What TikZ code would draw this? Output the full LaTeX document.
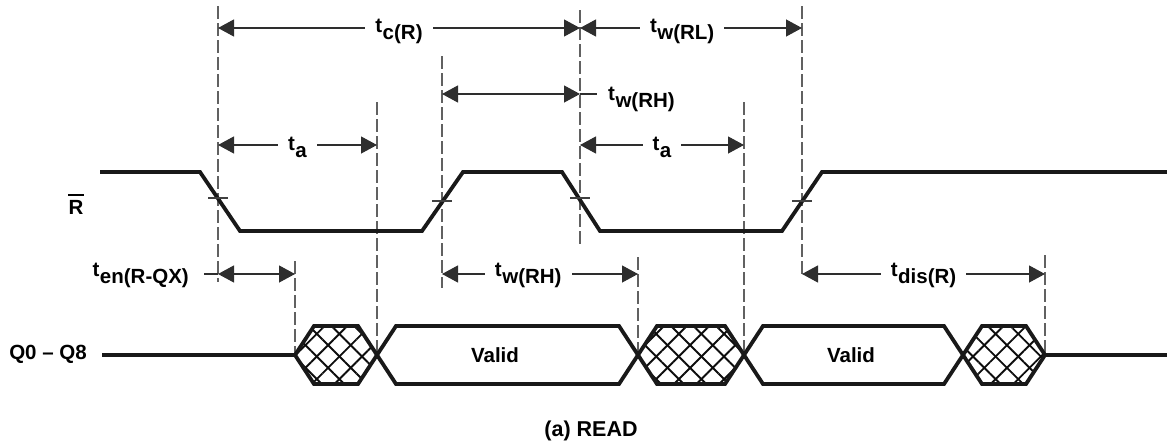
\documentclass[tikz,border=0pt]{standalone}
\usepackage{fontspec}
\setmainfont{Liberation Sans}
\usetikzlibrary{arrows.meta,patterns.meta,positioning,calc}

\newcommand{\tlab}[1]{t\kern0.5pt\raisebox{-7pt}{#1}}
\newcommand{\busseg}[2]{(#1,355) -- ({#1+19},326) -- ({#2-19},326) -- (#2,355) -- ({#2-19},384) -- ({#1+19},384) -- cycle}

\begin{document}
\begin{tikzpicture}[x=1pt, y=-1pt, font=\fontsize{20.5}{24}\selectfont\bfseries, >={Triangle[length=16pt,width=17pt]}]
    \tikzset{
      guide/.style={draw=black!62, line width=1.3pt, dash pattern=on 13pt off 4pt},
      wave/.style={draw=black!90, line width=3.8pt},
      dim/.style={<->, draw=black!82, line width=1.2pt},
      dimthin/.style={draw=black!82, line width=1.2pt},
      tick/.style={draw=black!75, line width=1.2pt},
      lbl/.style={fill=white, anchor=base, inner xsep=10pt, inner ysep=1pt},
      hatchne/.style={pattern={Lines[angle=45,distance=16pt,line width=1.9pt]}, pattern color=black!95},
      hatchnw/.style={pattern={Lines[angle=-45,distance=16pt,line width=1.9pt]}, pattern color=black!95},
    }
    \useasboundingbox (0,0) rectangle (1167,447);

    \foreach \n/\x/\a/\b in {1/218/6/282, 2/295/261/355, 3/377/102/355, 4/442/56/288, 5/580/10/247,
                             6/638/257/355, 7/744/102/355, 8/802/6/277, 9/1045/255/355}
      \draw[guide] (\x,\a) coordinate (d\n) -- (\x,\b);

    \coordinate (rowc) at (0,28);
    \coordinate (rowh) at (0,94);
    \coordinate (rowa) at (0,145);
    \coordinate (rowq) at (0,274);

    \draw[wave] (100,172) -- (200,172) -- (240,231) -- (422,231) -- (463,172) -- (562,172)
                -- (600,231) -- (782,231) -- (822,172) -- (1167,172);
    \foreach \x/\y in {218/198, 442/201, 580/198, 802/201}
      \draw[tick] ({\x-10},\y) -- ({\x+10},\y);

    \draw[wave] (102,355) -- (295,355);
    \draw[wave] (1045,355) -- (1167,355);
    \foreach \a/\b in {295/377, 638/744, 963/1045} {
      \path[hatchne] \busseg{\a}{\b};
      \path[hatchnw] \busseg{\a}{\b};
      \draw[wave] \busseg{\a}{\b};
    }
    \foreach \a/\b in {377/638, 744/963}
      \draw[wave] \busseg{\a}{\b};

    \node[inner sep=0pt] (rlab) at (76,207.5) {R};
    \draw[line width=1.9pt] ([yshift=5pt]rlab.north west) -- ([yshift=5pt]rlab.north east);
    \node (qlab) at (48,354) {Q0 \textendash\ Q8};
    \node (val1) at (495,355) {Valid};
    \node (val2) at (851,355) {Valid};

    \draw[dim] (d1 |- rowc) -- node[lbl, yshift=-4pt] (tc) {\tlab{c(R)}} (d5 |- rowc);
    \draw[dim] (d5 |- rowc) -- node[lbl, pos=0.46, yshift=-4pt] (twl) {\tlab{w(RL)}} (d8 |- rowc);

    \draw[dim] (d4 |- rowh) -- (d5 |- rowh);
    \node[anchor=base west, inner xsep=11pt, inner ysep=0pt] (twh) at (597,100) {\tlab{w(RH)}};
    \draw[dimthin] (d5 |- rowh) -- (twh.west |- rowh);

    \draw[dim] (d1 |- rowa) -- node[lbl, yshift=-5pt] (ta1) {\tlab{a}} (d3 |- rowa);
    \draw[dim] (d5 |- rowa) -- node[lbl, yshift=-5pt] (ta2) {\tlab{a}} (d7 |- rowa);

    \draw[dim] (d1 |- rowq) -- (d2 |- rowq);
    \node[anchor=base east, inner xsep=15pt, inner ysep=0pt] (ten) at (204,276) {\tlab{en(R-QX)}};
    \draw[dimthin] (ten.east |- rowq) -- (d1 |- rowq);
    \draw[dim] (d4 |- rowq) -- node[lbl, pos=0.44, yshift=-2pt] (twh2) {\tlab{w(RH)}} (d6 |- rowq);
    \draw[dim] (d8 |- rowq) -- node[lbl, yshift=-2pt] (tdis) {\tlab{dis(R)}} (d9 |- rowq);

    \node[font=\fontsize{21.5}{25}\selectfont\bfseries] (cap) at (591,431) {(a) READ};
  \end{tikzpicture}
\end{document}
